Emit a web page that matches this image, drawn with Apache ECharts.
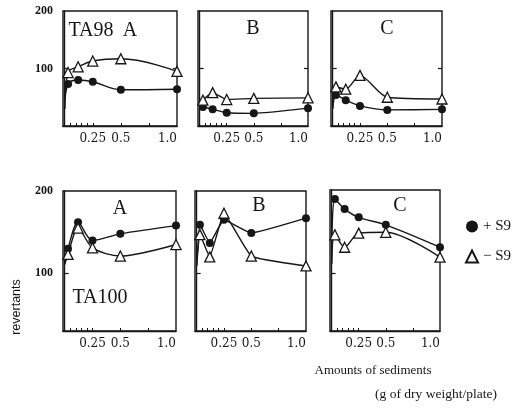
<!DOCTYPE html>
<html>
<head>
<meta charset="utf-8">
<script src="https://cdn.jsdelivr.net/npm/echarts@6/dist/echarts.min.js"></script>
<style>
  html, body { margin: 0; padding: 0; background: #fff; }
  #chart { width: 513px; height: 413px; }
</style>
</head>
<body>
<div id="chart"></div>
<script>
// Doses of sediment (g dry weight / plate); 0 = spontaneous control
const doses = [0, 0.03, 0.12, 0.25, 0.5, 1.0];
const xTickLabels = [0.25, 0.5, 1.0];
const xMinorTicks = [0.05, 0.1, 0.15, 0.2, 0.25, 0.5, 0.75];
const yTickLabels = [100, 200];

// TA98 revertants per plate, sites A, B, C
const ta98A_plusS9  = [30, 73, 80, 77, 63, 64];
const ta98A_minusS9 = [30, 93, 103, 113, 117, 95];
const ta98B_plusS9  = [30, 33, 29, 23, 22, 31];
const ta98B_minusS9 = [30, 45, 58, 46, 48, 49];
const ta98C_plusS9  = [30, 54, 45, 35, 28, 29];
const ta98C_minusS9 = [30, 68, 64, 88, 50, 47];

// TA100 revertants per plate, sites A, B, C
const ta100A_plusS9  = [111, 130, 162, 140, 148, 158];
const ta100A_minusS9 = [111, 123, 155, 131, 121, 135];
const ta100B_plusS9  = [109, 159, 137, 165, 149, 167];
const ta100B_minusS9 = [109, 147, 120, 173, 121, 109];
const ta100C_plusS9  = [111, 189, 177, 167, 158, 131];
const ta100C_minusS9 = [111, 146, 131, 148, 149, 119];

const panels = [
  { box: { left: 63,  top: 11,  width: 114, height: 115 }, ymin: 0,  plus: ta98A_plusS9,  minus: ta98A_minusS9,  smooth: 0.4,  labels: true,  rightTick: true },
  { box: { left: 198, top: 11,  width: 110, height: 115 }, ymin: 0,  plus: ta98B_plusS9,  minus: ta98B_minusS9,  smooth: 0.15, labels: false, rightTick: true },
  { box: { left: 331, top: 11,  width: 111, height: 115 }, ymin: 0,  plus: ta98C_plusS9,  minus: ta98C_minusS9,  smooth: 0.25, labels: false, rightTick: true },
  { box: { left: 63,  top: 191, width: 113, height: 140 }, ymin: 30, plus: ta100A_plusS9, minus: ta100A_minusS9, smooth: 0.3,  labels: true,  rightTick: false },
  { box: { left: 195, top: 191, width: 111, height: 140 }, ymin: 30, plus: ta100B_plusS9, minus: ta100B_minusS9, smooth: 0.1,  labels: false, rightTick: false },
  { box: { left: 330, top: 190, width: 110, height: 141 }, ymin: 30, plus: ta100C_plusS9, minus: ta100C_minusS9, smooth: 0.3,  labels: false, rightTick: false }
];

const INK = '#161616';
const SERIF = '"Liberation Serif", "DejaVu Serif", serif';

function points(vals) {
  return doses.map((d, k) => k === 0
    ? { value: [d, vals[k]], symbol: 'none' }
    : { value: [d, vals[k]] });
}

const grid = [], xAxis = [], yAxis = [], series = [];
panels.forEach((p, i) => {
  grid.push(Object.assign({ show: true, borderColor: INK, borderWidth: 1.4, backgroundColor: 'transparent' }, p.box));
  xAxis.push({
    gridIndex: i, type: 'value', min: -0.015, max: 1.0,
    axisLine: { show: true, onZero: false, lineStyle: { color: INK, width: 1.4 } },
    axisTick: { show: true, inside: true, length: 3, customValues: xMinorTicks, lineStyle: { color: INK, width: 1 } },
    axisLabel: {
      show: true, customValues: xTickLabels, margin: 7, alignMaxLabel: 'right',
      formatter: v => v.toFixed(v === 0.25 ? 2 : 1),
      fontFamily: '"DejaVu Serif", serif', fontSize: 12, color: INK
    },
    splitLine: { show: false }
  });
  yAxis.push({
    gridIndex: i, type: 'value', min: p.ymin, max: 200,
    axisLine: { show: true, lineStyle: { color: INK, width: 1.4 } },
    axisTick: { show: true, inside: true, length: 4, customValues: [100], lineStyle: { color: INK, width: 1.2 } },
    axisLabel: {
      show: p.labels, customValues: yTickLabels, margin: 10,
      fontFamily: SERIF, fontWeight: 'bold', fontSize: 12, color: INK
    },
    splitLine: { show: false }
  });
  const lineCommon = { type: 'line', xAxisIndex: i, yAxisIndex: i, smooth: p.smooth, z: 3,
    lineStyle: { color: INK, width: 1.4 }, emphasis: { disabled: true } };
  series.push(Object.assign({}, lineCommon, {
    name: '+ S9', data: points(p.plus), symbol: 'circle', symbolSize: 8,
    itemStyle: { color: INK }
  }));
  series.push(Object.assign({}, lineCommon, {
    name: '\u2212 S9', data: points(p.minus), symbol: 'triangle', symbolSize: 10, z: 4,
    itemStyle: { color: '#fff', borderColor: INK, borderWidth: 1.3 }
  }));
});

// Right-hand tick at 100 on the TA98 panels
panels.forEach((p, i) => {
  if (!p.rightTick) return;
  yAxis.push({
    gridIndex: i, type: 'value', position: 'right', min: p.ymin, max: 200,
    axisLine: { show: false },
    axisTick: { show: true, inside: true, length: 4, customValues: [100], lineStyle: { color: INK, width: 1.2 } },
    axisLabel: { show: false },
    splitLine: { show: false }
  });
});

function label(text, x, y, size, extra) {
  return Object.assign({
    type: 'text', x: x, y: y,
    style: { text: text, font: size + 'px ' + SERIF, fill: INK, textAlign: 'center', textVerticalAlign: 'middle' }
  }, extra || {});
}

const option = {
  animation: false,
  backgroundColor: '#fff',
  grid: grid, xAxis: xAxis, yAxis: yAxis, series: series,
  legend: {
    data: [{ name: '+ S9', icon: 'circle' }, { name: '\u2212 S9', icon: 'triangle' }],
    orient: 'vertical', left: 460, top: 214, itemWidth: 12, itemHeight: 12, itemGap: 15,
    selectedMode: false,
    textStyle: { fontFamily: SERIF, fontSize: 15, color: INK }
  },
  graphic: [
    label('TA98', 91, 31, 20),
    label('A', 130, 31, 20),
    label('B', 253, 29, 20),
    label('C', 387, 29, 20),
    label('A', 120, 209, 20),
    label('B', 259, 206, 20),
    label('C', 400, 206, 20),
    label('TA100', 100, 298, 20),
    {
      type: 'text', x: 17, y: 307, rotation: Math.PI / 2,
      style: { text: 'revertants', font: '12.5px "Liberation Sans", sans-serif', fill: INK, textAlign: 'center', textVerticalAlign: 'middle' }
    },
    label('Amounts of sediments', 373, 371, 13),
    label('(g of dry weight/plate)', 436, 394, 13.5)
  ]
};

echarts.init(document.getElementById('chart'), null, { renderer: 'canvas' }).setOption(option);
</script>
</body>
</html>
